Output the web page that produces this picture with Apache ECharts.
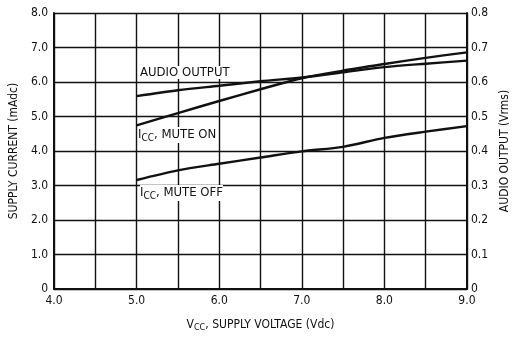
<!DOCTYPE html>
<html>
<head>
<meta charset="utf-8">
<script src="https://cdn.jsdelivr.net/npm/echarts@6/dist/echarts.min.js"></script>
<style>
  html, body { margin: 0; padding: 0; background: #fff; }
  #main { width: 519px; height: 337px; }
</style>
</head>
<body>
<div id="main"></div>
<script>
// supply voltage (Vdc)
var vcc = [5.0, 5.5, 6.0, 6.5, 7.0, 7.5, 8.0, 8.5, 9.0];
// supply current, mute on (mAdc)
var iccMuteOn = [4.74, 5.10, 5.45, 5.79, 6.11, 6.33, 6.52, 6.70, 6.86];
// supply current, mute off (mAdc)
var iccMuteOff = [3.16, 3.44, 3.63, 3.81, 3.99, 4.12, 4.38, 4.56, 4.72];
// audio output (Vrms)
var audioOut = [0.559, 0.576, 0.589, 0.602, 0.613, 0.628, 0.643, 0.653, 0.662];

function pairs(xs, ys) {
    var out = [];
    for (var i = 0; i < xs.length; i++) {
        out.push([xs[i], ys[i]]);
    }
    return out;
}

var FONT = '"DejaVu Sans Condensed", "Liberation Sans Narrow", "Liberation Sans", sans-serif';
var txt = { fontFamily: FONT, fontSize: 12, color: '#111' };

function tick(v) {
    return v === 0 ? '0' : v.toFixed(1);
}

// I with subscript CC
function iccRich(size) {
    return {
        v: { fontFamily: FONT, fontSize: size, fill: '#111', color: '#111' },
        sub: { fontFamily: FONT, fontSize: size - 3, fill: '#111', color: '#111', padding: [6, 0, 0, 0] }
    };
}

var myChart = echarts.init(document.getElementById('main'));

var lineStyle = { color: '#111', width: 2.4 };

var option = {
    animation: false,
    backgroundColor: '#fff',
    grid: { left: 53, right: 46, top: 13, bottom: 43 },
    xAxis: {
        type: 'value',
        min: 4,
        max: 9,
        interval: 0.5,
        name: '{v|V}{sub|CC}{v|, SUPPLY VOLTAGE (Vdc)}',
        nameLocation: 'middle',
        nameGap: 28,
        nameTextStyle: { rich: iccRich(12) },
        axisLine: { lineStyle: { color: '#111', width: 2 } },
        axisTick: { show: false },
        axisLabel: {
            fontFamily: FONT, fontSize: 12, color: '#111', margin: 6,
            formatter: function(v) {
                return Math.abs(v - Math.round(v)) < 1e-6 ? v.toFixed(1) : '';
            }
        },
        splitLine: { lineStyle: { color: '#111', width: 1.4 } }
    },
    yAxis: [
        {
            type: 'value',
            min: 0,
            max: 8,
            interval: 1,
            name: 'SUPPLY CURRENT (mAdc)',
            nameLocation: 'middle',
            nameGap: 31,
            nameTextStyle: txt,
            axisLine: { show: true, lineStyle: { color: '#111', width: 2 } },
            axisTick: { show: false },
            axisLabel: { fontFamily: FONT, fontSize: 12, color: '#111', margin: 6, formatter: tick },
            splitLine: { lineStyle: { color: '#111', width: 1.4 } }
        },
        {
            type: 'value',
            position: 'right',
            min: 0,
            max: 0.8,
            interval: 0.1,
            name: 'AUDIO OUTPUT (Vrms)',
            nameLocation: 'middle',
            nameGap: 29,
            nameRotate: 90,
            nameTextStyle: txt,
            axisLine: { show: true, lineStyle: { color: '#111', width: 2 } },
            axisTick: { show: false },
            axisLabel: { fontFamily: FONT, fontSize: 12, color: '#111', margin: 4, formatter: tick },
            splitLine: { show: false }
        }
    ],
    series: [
        {
            name: 'AUDIO OUTPUT',
            type: 'line',
            yAxisIndex: 1,
            smooth: 0.3,
            symbol: 'none',
            lineStyle: lineStyle,
            data: pairs(vcc, audioOut)
        },
        {
            name: 'ICC, MUTE ON',
            type: 'line',
            smooth: 0.3,
            symbol: 'none',
            lineStyle: lineStyle,
            data: pairs(vcc, iccMuteOn)
        },
        {
            name: 'ICC, MUTE OFF',
            type: 'line',
            smooth: 0.3,
            symbol: 'none',
            lineStyle: lineStyle,
            data: pairs(vcc, iccMuteOff)
        }
    ],
    graphic: [
        {
            type: 'text', left: 140, top: 66, z: 100,
            style: { text: 'AUDIO OUTPUT', font: '13px ' + FONT, fill: '#111', backgroundColor: '#fff' }
        },
        {
            type: 'text', left: 138, top: 127, z: 100,
            style: {
                text: '{v|I}{sub|CC}{v|, MUTE ON}',
                backgroundColor: '#fff',
                rich: iccRich(13)
            }
        },
        {
            type: 'text', left: 140, top: 185, z: 100,
            style: {
                text: '{v|I}{sub|CC}{v|, MUTE OFF}',
                backgroundColor: '#fff',
                rich: iccRich(13)
            }
        }
    ]
};

myChart.setOption(option);
</script>
</body>
</html>
